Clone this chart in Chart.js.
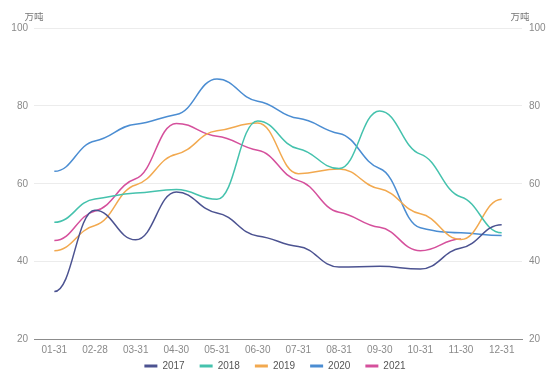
<!DOCTYPE html>
<html>
<head>
<meta charset="utf-8">
<script src="https://cdn.jsdelivr.net/npm/chart.js@4.4.1/dist/chart.umd.min.js"></script>
<style>
html,body{margin:0;padding:0;background:#ffffff;}
#wrap{width:550px;height:379px;}
</style>
</head>
<body>
<div id="wrap"><canvas id="c" width="550" height="379"></canvas></div>
<script>
// ---- data ----
const categories = ['01-31','02-28','03-31','04-30','05-31','06-30','07-31','08-31','09-30','10-31','11-30','12-31'];
const seriesNames = ['2017','2018','2019','2020','2021'];
const s2017 = [32.3, 53.2, 45.6, 57.9, 52.5, 46.6, 43.9, 38.6, 38.8, 38.1, 43.5, 49.5];
const s2018 = [50.1, 56.1, 57.6, 58.5, 56.0, 76.1, 69.0, 63.9, 78.7, 67.6, 56.6, 47.4];
const s2019 = [42.8, 49.3, 59.7, 67.6, 73.6, 75.6, 62.6, 63.8, 58.7, 52.3, 45.7, 56.0];
const s2020 = [63.2, 71.0, 75.3, 77.8, 86.9, 81.2, 76.8, 72.9, 63.9, 48.7, 47.4, 46.7];
const s2021 = [45.4, 53.0, 61.3, 75.5, 72.2, 68.6, 60.8, 52.7, 48.8, 42.8, 45.8, null];
const yMin = 20, yMax = 100, yStep = 20;
const unitLabel = '万吨';

// ---- styles ----
const seriesData = [s2017, s2018, s2019, s2020, s2021];
const colors = ['#4c5391', '#45c2ad', '#f2a94f', '#4b8dd2', '#d5509c'];
const FONT = '"Liberation Sans", Arial, sans-serif';
const tickColor = '#8a8a8a';

// smooth curve with near-horizontal tangents at each data point
const K = 0.45, SLOPE_F = 0.3;
const flatSmooth = {
  id: 'flatSmooth',
  beforeDatasetDraw(chart, args) {
    const meta = args.meta;
    const line = meta.dataset;
    if (!line) return;
    if (line.updateControlPoints) line.updateControlPoints(chart.chartArea, 'x');
    const pts = meta.data;
    for (let i = 0; i < pts.length; i++) {
      const p = pts[i];
      if (p.skip) continue;
      const prev = (i > 0 && !pts[i-1].skip) ? pts[i-1] : null;
      const next = (i < pts.length - 1 && !pts[i+1].skip) ? pts[i+1] : null;
      let slope = 0;
      if (prev && next) {
        const s1 = (p.y - prev.y) / (p.x - prev.x);
        const s2 = (next.y - p.y) / (next.x - p.x);
        slope = (s1 * s2 > 0) ? SLOPE_F * (s1 + s2) / 2 : 0;
      }
      const dxp = prev ? (p.x - prev.x) * K : 0;
      const dxn = next ? (next.x - p.x) * K : 0;
      p.cp1x = p.x - dxp; p.cp1y = p.y - slope * dxp;
      p.cp2x = p.x + dxn; p.cp2y = p.y + slope * dxn;
    }
    line._path = undefined;
  }
};

// let the x tick labels extend below the (thin) x scale box
const labelRoom = {
  id: 'labelRoom',
  afterLayout(chart) {
    chart.scales.x.bottom = chart.height;
  }
};

const unitPlugin = {
  id: 'units',
  afterDraw(chart) {
    const ctx = chart.ctx;
    ctx.save();
    ctx.font = '9.5px "Noto Sans CJK SC", sans-serif';
    ctx.fillStyle = '#777';
    ctx.textAlign = 'center';
    ctx.textBaseline = 'middle';
    ctx.fillText(unitLabel, chart.scales.y.right, 16);
    ctx.fillText(unitLabel, chart.scales.y2.left - 2, 16);
    ctx.restore();
  }
};

new Chart(document.getElementById('c').getContext('2d'), {
  type: 'line',
  data: {
    labels: categories,
    datasets: seriesNames.map((n, i) => ({
      label: n,
      data: seriesData[i],
      borderColor: colors[i],
      backgroundColor: colors[i],
      borderWidth: 1.5,
      pointRadius: 0,
      pointHoverRadius: 0,
      tension: 0.4,
      fill: false,
      yAxisID: 'y'
    }))
  },
  options: {
    responsive: false,
    animation: false,
    events: [],
    layout: { padding: { top: 28, left: 0, right: 0, bottom: 3 } },
    scales: {
      x: {
        offset: true,
        grid: { display: false, drawTicks: false },
        border: { display: true, color: '#8c8c8c', width: 1 },
        ticks: { autoSkip: false, maxRotation: 0, padding: 5, color: tickColor, font: { size: 10, family: FONT } },
        afterFit: s => { s.height = 6.5; }
      },
      y: {
        position: 'left', min: yMin, max: yMax,
        ticks: { stepSize: yStep, padding: 6, color: tickColor, font: { size: 10, family: FONT } },
        grid: { color: '#ececec', drawTicks: false },
        border: { display: false },
        afterFit: s => { s.width = 34; }
      },
      y2: {
        position: 'right', min: yMin, max: yMax,
        ticks: { stepSize: yStep, padding: 7, color: tickColor, font: { size: 10, family: FONT } },
        grid: { display: false, drawTicks: false },
        border: { display: false },
        afterFit: s => { s.width = 28; }
      }
    },
    plugins: {
      tooltip: { enabled: false },
      legend: {
        position: 'bottom',
        maxHeight: 30,
        labels: {
          boxWidth: 13, boxHeight: 3, padding: 15, color: '#555',
          font: { size: 10, family: FONT },
          generateLabels(chart) {
            return Chart.defaults.plugins.legend.labels.generateLabels(chart).map(l => ({ ...l, lineWidth: 0, strokeStyle: l.fillStyle }));
          }
        }
      }
    }
  },
  plugins: [flatSmooth, labelRoom, unitPlugin]
});
</script>
</body>
</html>
